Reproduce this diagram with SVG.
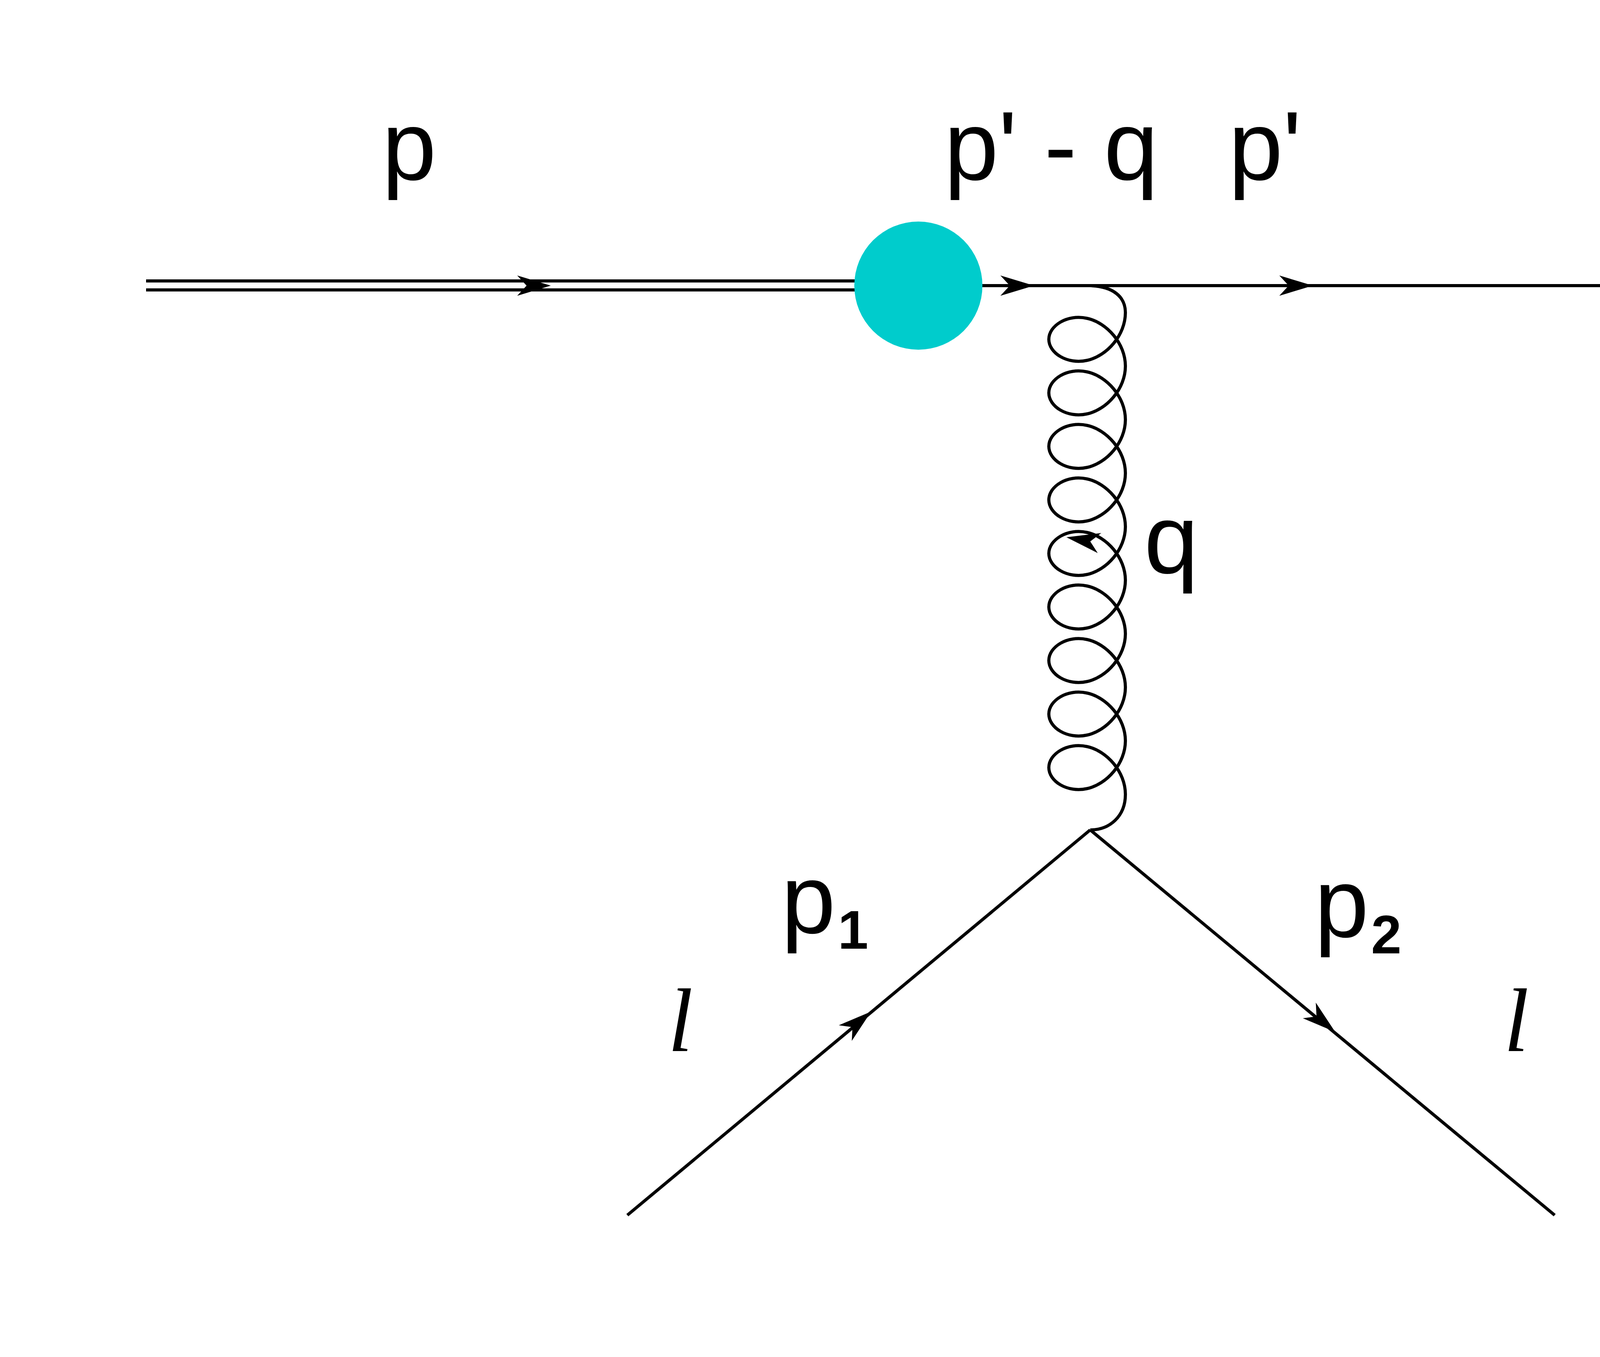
<svg xmlns="http://www.w3.org/2000/svg" width="4489" height="3473" viewBox="0 0 4489 3473">
<style>
.ln{stroke:#000;stroke-width:8;fill:none}
.ar{fill:#000;stroke:none}
.t{font-family:"Liberation Sans",Arial,sans-serif;font-size:250px;fill:#000}
.s{font-family:"Liberation Sans",Arial,sans-serif;font-size:140px;font-weight:bold;fill:#000}
.l{font-family:"Liberation Serif","Times New Roman",serif;font-style:italic;font-size:230px;fill:#000}
</style>
<defs>
<path id="arrow" d="M0 0 L-86 -26 L-62 0 L-86 26 Z"/>
</defs>
<rect width="4489" height="3473" fill="#fff"/>
<g id="connectors">
<line class="ln" x1="374" y1="719" x2="2200" y2="719"/>
<line class="ln" x1="374" y1="742" x2="2200" y2="742"/>
<line class="ln" x1="2500" y1="731" x2="4129" y2="731"/>
<path class="ln" d="M2791 731 C2850 733 2881 760 2881 800
c0 57.5 -46.7 110.85 -98 122.25 c-51.3 11.4 -98 -19.1 -98 -53.75 c0 -34.7 46.7 -65.15 98 -53.75
c51.3 11.4 98 64.85 98 122.25 c0 57.5 -46.7 110.85 -98 122.25 c-51.3 11.4 -98 -19.1 -98 -53.75 c0 -34.7 46.7 -65.15 98 -53.75
c51.3 11.4 98 64.85 98 122.25 c0 57.5 -46.7 110.85 -98 122.25 c-51.3 11.4 -98 -19.1 -98 -53.75 c0 -34.7 46.7 -65.15 98 -53.75
c51.3 11.4 98 64.85 98 122.25 c0 57.5 -46.7 110.85 -98 122.25 c-51.3 11.4 -98 -19.1 -98 -53.75 c0 -34.7 46.7 -65.15 98 -53.75
c51.3 11.4 98 64.85 98 122.25 c0 57.5 -46.7 110.85 -98 122.25 c-51.3 11.4 -98 -19.1 -98 -53.75 c0 -34.7 46.7 -65.15 98 -53.75
c51.3 11.4 98 64.85 98 122.25 c0 57.5 -46.7 110.85 -98 122.25 c-51.3 11.4 -98 -19.1 -98 -53.75 c0 -34.7 46.7 -65.15 98 -53.75
c51.3 11.4 98 64.85 98 122.25 c0 57.5 -46.7 110.85 -98 122.25 c-51.3 11.4 -98 -19.1 -98 -53.75 c0 -34.7 46.7 -65.15 98 -53.75
c51.3 11.4 98 64.85 98 122.25 c0 57.5 -46.7 110.85 -98 122.25 c-51.3 11.4 -98 -19.1 -98 -53.75 c0 -34.7 46.7 -65.15 98 -53.75
c51.3 11.4 98 64.85 98 122.25 c0 57.5 -46.7 110.85 -98 122.25 c-51.3 11.4 -98 -19.1 -98 -53.75 c0 -34.7 46.7 -65.15 98 -53.75
c51.3 11.4 98 64.85 98 122.25 C2881 2090 2840 2124 2791 2124"/>
<line class="ln" x1="1606" y1="3110" x2="2791" y2="2124"/>
<line class="ln" x1="2791" y1="2124" x2="3980" y2="3110"/>
<use href="#arrow" class="ar" transform="translate(1410 731)"/>
<use href="#arrow" class="ar" transform="translate(2647 731)"/>
<use href="#arrow" class="ar" transform="translate(3361 731)"/>
<use href="#arrow" class="ar" transform="translate(2230 2589) rotate(-39.8)"/>
<use href="#arrow" class="ar" transform="translate(3418 2641) rotate(39.7)"/>
<use href="#arrow" class="ar" transform="translate(2730 1375) rotate(190)"/>
</g>
<g id="blob"><circle cx="2351" cy="731" r="164" fill="#00CCCC"/></g>
<g id="labels">
<text class="t" x="2000" y="2388">p</text>
<text class="s" x="2145" y="2428">1</text>
<text class="t" x="3365" y="2398">p</text>
<text class="s" x="3510" y="2440">2</text>
<text class="t" x="978" y="460">p</text>
<text class="t" x="2417" y="460">p' - q</text>
<text class="t" x="3145" y="460">p'</text>
<text class="t" x="2929" y="1467">q</text>
<text class="l" x="1710" y="2690">l</text>
<text class="l" x="3850" y="2690">l</text>
</g>
</svg>
